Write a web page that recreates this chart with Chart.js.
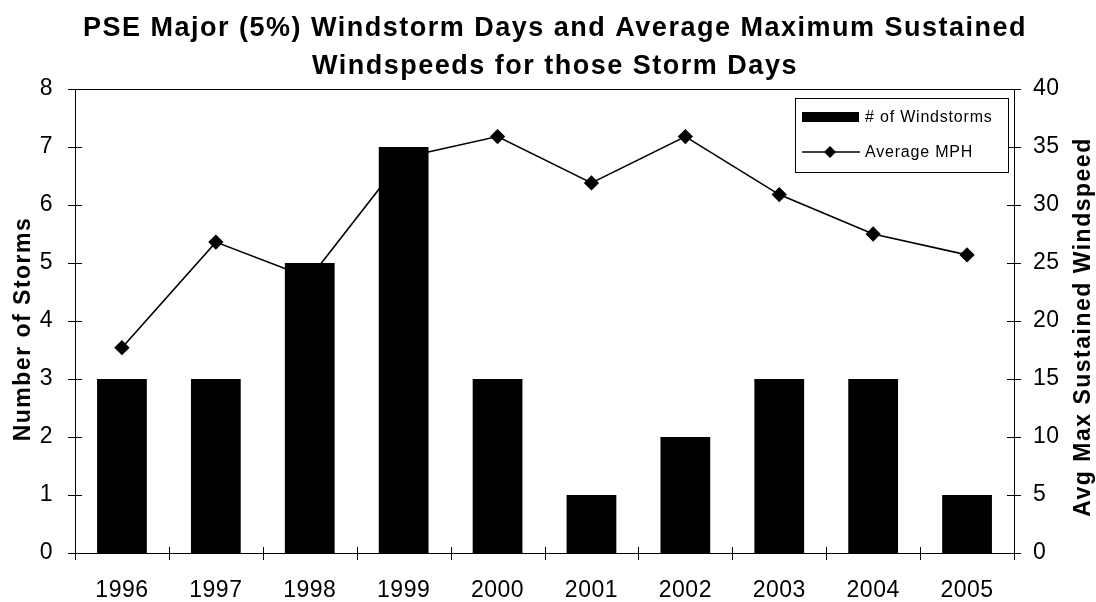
<!DOCTYPE html>
<html>
<head>
<meta charset="utf-8">
<script src="https://cdn.jsdelivr.net/npm/chart.js@4.4.1/dist/chart.umd.min.js"></script>
<style>
	html, body { margin: 0; padding: 0; background: #fff; }
	#wrap { width: 1096px; height: 602px; }
</style>
</head>
<body>
<div id="wrap"><canvas id="graphicWindstorms" width="1096" height="602"></canvas></div>
<script>
var years = ['1996', '1997', '1998', '1999', '2000', '2001', '2002', '2003', '2004', '2005'];
var windstorms = [3, 3, 5, 7, 3, 1, 2, 3, 3, 1];
var avgMph = [17.7, 26.8, 23.7, 34.1, 35.9, 31.9, 35.9, 30.9, 27.5, 25.7];

var titleLines = ['PSE Major (5%) Windstorm Days and Average Maximum Sustained', 'Windspeeds for those Storm Days'];
var stormRange = [0, 8, 1];
var mphRange = [0, 40, 5];

var FONT = "'Liberation Sans', Arial, sans-serif";

// the scanned Excel text is a bit stretched, so tick labels get a little letter spacing
var textSpacing = {
	id: 'textSpacing',
	beforeDraw: function(chart) {
		chart.ctx.letterSpacing = '0.5px';
	}
};

// title, axis titles, plot border, crossing ticks and the boxed legend inside the plot
var excelFrame = {
	id: 'excelFrame',
	afterDatasetsDraw: function(chart) {
		var ctx = chart.ctx;
		var a = chart.chartArea;
		ctx.save();
		ctx.strokeStyle = '#000';
		ctx.fillStyle = '#000';
		ctx.lineWidth = 1;
		ctx.strokeRect(Math.round(a.left) + 0.5, Math.round(a.top) + 0.5, Math.round(a.right - a.left), Math.round(a.bottom - a.top));

		ctx.beginPath();
		chart.scales.y.ticks.forEach(function(t) {
			var y = Math.round(chart.scales.y.getPixelForValue(t.value)) + 0.5;
			ctx.moveTo(a.left - 7, y);
			ctx.lineTo(a.left + 7, y);
		});
		chart.scales.y1.ticks.forEach(function(t) {
			var y = Math.round(chart.scales.y1.getPixelForValue(t.value)) + 0.5;
			ctx.moveTo(a.right - 7, y);
			ctx.lineTo(a.right + 7, y);
		});
		var x = chart.scales.x;
		for (var i = 0; i <= years.length; i++) {
			var px = Math.round(x.left + (x.right - x.left) * i / years.length) + 0.5;
			ctx.moveTo(px, a.bottom - 6);
			ctx.lineTo(px, a.bottom + 7);
		}
		ctx.stroke();

		// legend
		var lx = 795, ly = 98, lw = 213, lh = 74;
		ctx.fillStyle = '#fff';
		ctx.fillRect(lx, ly, lw, lh);
		ctx.strokeRect(lx + 0.5, ly + 0.5, lw, lh);
		ctx.fillStyle = '#000';
		ctx.fillRect(802, 112, 57, 10);
		ctx.lineWidth = 1.5;
		ctx.beginPath();
		ctx.moveTo(802, 152);
		ctx.lineTo(860, 152);
		ctx.stroke();
		ctx.beginPath();
		ctx.moveTo(830, 146);
		ctx.lineTo(836, 152);
		ctx.lineTo(830, 158);
		ctx.lineTo(824, 152);
		ctx.closePath();
		ctx.fill();
		ctx.letterSpacing = '0.8px';
		ctx.font = '16px ' + FONT;
		ctx.textBaseline = 'middle';
		ctx.textAlign = 'left';
		ctx.fillText('# of Windstorms', 865, 118);
		ctx.fillText('Average MPH', 865, 153);

		// chart title
		ctx.letterSpacing = '1.5px';
		ctx.font = 'bold 27px ' + FONT;
		ctx.textAlign = 'center';
		ctx.fillText(titleLines[0], 555, 29);
		ctx.fillText(titleLines[1], 555, 67);

		// axis titles
		var midY = (a.top + a.bottom) / 2;
		ctx.letterSpacing = '1.5px';
		ctx.font = 'bold 23px ' + FONT;
		ctx.save();
		ctx.translate(24, midY + 8);
		ctx.rotate(-Math.PI / 2);
		ctx.fillText('Number of Storms', 0, 0);
		ctx.restore();
		ctx.save();
		ctx.translate(1084, midY + 6);
		ctx.rotate(-Math.PI / 2);
		ctx.fillText('Avg Max Sustained Windspeed', 0, 0);
		ctx.restore();
		ctx.restore();
	}
};

(function() {
	var ctx = document.getElementById('graphicWindstorms').getContext('2d');

	new Chart(ctx, {
		type: 'bar',
		data: {
			labels: years,
			datasets: [{
				type: 'line',
				label: 'Average MPH',
				data: avgMph,
				yAxisID: 'y1',
				borderColor: '#000',
				backgroundColor: '#000',
				borderWidth: 1.6,
				pointStyle: 'rectRot',
				pointRadius: 6.5,
				pointHoverRadius: 6.5,
				tension: 0,
				order: 2
			}, {
				label: '# of Windstorms',
				data: windstorms,
				yAxisID: 'y',
				backgroundColor: '#000',
				borderWidth: 0,
				categoryPercentage: 1,
				barPercentage: 0.53,
				order: 1
			}]
		},
		options: {
			responsive: false,
			animation: false,
			layout: { padding: { left: 0, right: 0, top: 89, bottom: 0 } },
			plugins: {
				legend: { display: false },
				tooltip: { enabled: false },
				title: { display: false }
			},
			scales: {
				x: {
					grid: { display: false },
					border: { display: false },
					ticks: { color: '#000', font: { family: FONT, size: 23 }, padding: 16 },
					afterFit: function(s) { s.height = 49; }
				},
				y: {
					position: 'left',
					min: stormRange[0],
					max: stormRange[1],
					grid: { display: false },
					border: { display: false },
					ticks: { stepSize: stormRange[2], color: '#000', font: { family: FONT, size: 23 }, padding: 14 },
					afterFit: function(s) { s.width = 75; }
				},
				y1: {
					position: 'right',
					min: mphRange[0],
					max: mphRange[1],
					grid: { display: false },
					border: { display: false },
					ticks: { stepSize: mphRange[2], color: '#000', font: { family: FONT, size: 23 }, padding: 11 },
					afterFit: function(s) { s.width = 82; }
				}
			}
		},
		plugins: [textSpacing, excelFrame]
	});
}());
</script>
</body>
</html>
